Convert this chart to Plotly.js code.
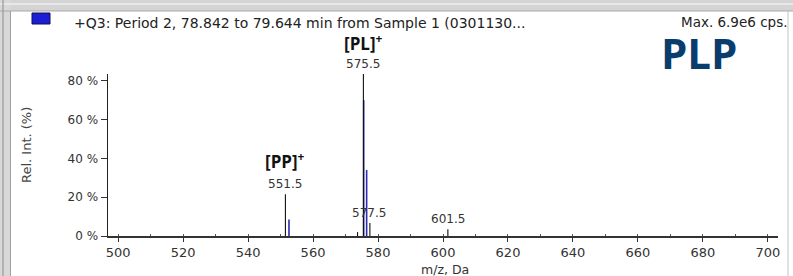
<!DOCTYPE html>
<html>
<head>
<meta charset="utf-8">
<script src="https://cdn.plot.ly/plotly-3.0.1.min.js"></script>
<style>
  html, body { margin: 0; padding: 0; background: #ffffff; }
  #chart { width: 793px; height: 276px; }
</style>
</head>
<body>
<div id="chart"></div>
<script>
// ---- data ----
const blueMz   = [552.6, 575.6, 576.5];
const blueInt  = [8.5, 70, 34];
const blackMz  = [551.5, 573.7, 575.5, 577.5, 601.5];
const blackInt = [21.5, 2.0, 83.5, 6.7, 3.5];
const labelMz   = [551.5, 575.5, 577.3, 601.5];
const labelInt  = [21.5, 83.5, 6.7, 3.5];
const labelText = ['551.5', '575.5', '577.5', '601.5'];
const ionMz   = [551.4, 575.6];
const ionText = ['[PP]<sup>+</sup>', '[PL]<sup>+</sup>'];
const yTickVals = [0, 20, 40, 60, 80];
const yTickText = ['0 %', '20 %', '40 %', '60 %', '80 %'];
const titleText = '+Q3: Period 2, 78.842 to 79.644 min from Sample 1 (0301130...';
const maxText = 'Max. 6.9e6 cps.';
const compoundText = 'PLP';
const xTitle = 'm/z, Da';
const yTitle = 'Rel. Int. (%)';

// ---- layout geometry (pixels) ----
const W = 793, H = 276;
const mL = 108, mR = 15, mT = 74, mB = 40;
const pw = W - mL - mR, ph = H - mT - mB;
const px = v => (v - mL) / pw;          // pixel x -> paper x
const py = v => (mT + ph - v) / ph;     // pixel y -> paper y
const ionPixY = [160, 42];              // vertical centres of the ion labels

function sticks(xs, ys) {
  const X = [], Y = [];
  xs.forEach((x, i) => { X.push(x, x, null); Y.push(0, ys[i], null); });
  return {X, Y};
}
const b = sticks(blueMz, blueInt);
const k = sticks(blackMz, blackInt);

const traces = [
  { type: 'scatter', mode: 'lines', x: b.X, y: b.Y,
    line: { color: '#2b2bb0', width: 1.6 }, hoverinfo: 'skip', showlegend: false },
  { type: 'scatter', mode: 'lines', x: k.X, y: k.Y,
    line: { color: '#111111', width: 1.1 }, hoverinfo: 'skip', showlegend: false },
  { type: 'scatter', mode: 'markers', x: [496.4], y: [3.1], cliponaxis: false,
    marker: { symbol: 'triangle-right', size: 10, color: '#1e1e50' },
    hoverinfo: 'skip', showlegend: false }
];

const tickFont = { family: 'DejaVu Sans', size: 13, color: '#333333' };
const annotations = [];
labelMz.forEach((m, i) => annotations.push({
  x: m, y: labelInt[i], xref: 'x', yref: 'y', text: labelText[i], showarrow: false,
  yanchor: 'bottom', yshift: 1, font: { family: 'DejaVu Sans', size: 12, color: '#333333' }
}));
ionMz.forEach((m, i) => annotations.push({
  x: m, y: py(ionPixY[i]), xref: 'x', yref: 'paper', text: ionText[i], showarrow: false,
  yanchor: 'middle', font: { family: 'Open Sans', size: 17, weight: 700, color: '#111111' }
}));
annotations.push(
  { x: px(72), y: py(23), xref: 'paper', yref: 'paper', text: titleText, showarrow: false,
    xanchor: 'left', yanchor: 'middle', font: { family: 'DejaVu Sans', size: 14, color: '#222222' } },
  { x: px(789), y: py(22), xref: 'paper', yref: 'paper', text: maxText, showarrow: false,
    xanchor: 'right', yanchor: 'middle', font: { family: 'DejaVu Sans', size: 13.5, color: '#222222' } },
  { x: px(699), y: py(52), xref: 'paper', yref: 'paper', text: compoundText, showarrow: false,
    xanchor: 'center', yanchor: 'middle', font: { family: 'Open Sans', size: 42, weight: 700, color: '#0b3c6e' } },
  { x: px(445), y: py(269), xref: 'paper', yref: 'paper', text: xTitle, showarrow: false,
    xanchor: 'center', yanchor: 'middle', font: { family: 'DejaVu Sans', size: 12.5, color: '#333333' } },
  { x: px(26), y: py(145), xref: 'paper', yref: 'paper', text: yTitle, showarrow: false,
    textangle: -90, xanchor: 'center', yanchor: 'middle', font: { family: 'DejaVu Sans', size: 13, color: '#444444' } }
);

const shapes = [
  // window frame
  { type: 'rect', xref: 'paper', yref: 'paper', x0: px(0), x1: px(W), y0: py(0), y1: py(11),
    fillcolor: '#d4d4d4', line: { width: 0 }, layer: 'below' },
  { type: 'line', xref: 'paper', yref: 'paper', x0: px(0), x1: px(W), y0: py(11), y1: py(11),
    line: { color: '#a9a9a9', width: 1 } },
  { type: 'line', xref: 'paper', yref: 'paper', x0: px(0), x1: px(W), y0: py(4), y1: py(4),
    line: { color: '#e8e8e8', width: 2 } },
  { type: 'rect', xref: 'paper', yref: 'paper', x0: px(0), x1: px(11), y0: py(0), y1: py(H),
    fillcolor: '#d8d8d8', line: { width: 0 }, layer: 'below' },
  { type: 'line', xref: 'paper', yref: 'paper', x0: px(3), x1: px(3), y0: py(0), y1: py(H),
    line: { color: '#8c8c8c', width: 1 } },
  { type: 'line', xref: 'paper', yref: 'paper', x0: px(10.5), x1: px(10.5), y0: py(11), y1: py(H),
    line: { color: '#a0a0a0', width: 1 } },
  { type: 'line', xref: 'paper', yref: 'paper', x0: px(788), x1: px(788), y0: py(11), y1: py(H),
    line: { color: '#c4c4c4', width: 1 } },
  // legend swatch
  { type: 'rect', xref: 'paper', yref: 'paper', x0: px(32), x1: px(50), y0: py(13), y1: py(24),
    fillcolor: '#1d1dd6', line: { color: '#10104a', width: 1 } }
];

const layout = {
  width: W, height: H,
  margin: { l: mL, r: mR, t: mT, b: mB, pad: 0 },
  paper_bgcolor: '#ffffff', plot_bgcolor: '#ffffff',
  showlegend: false,
  xaxis: {
    range: [496.9, 703.1], tick0: 500, dtick: 20, ticks: 'outside', ticklen: 4,
    tickcolor: '#333333', tickwidth: 1, showline: true, linecolor: '#333333', linewidth: 1.5,
    showgrid: false, zeroline: false, tickfont: tickFont, fixedrange: true,
    minor: { tick0: 500, dtick: 10, ticks: 'inside', ticklen: 2, tickcolor: '#555555', showgrid: false }
  },
  yaxis: {
    range: [0, 83.5], tickvals: yTickVals, ticktext: yTickText, ticks: 'outside', ticklen: 6,
    tickcolor: '#333333', tickwidth: 1, showline: true, linecolor: '#222222', linewidth: 1.5,
    showgrid: false, zeroline: false, tickfont: { family: 'DejaVu Sans', size: 12, color: '#333333' },
    fixedrange: true
  },
  annotations: annotations,
  shapes: shapes
};

Plotly.newPlot('chart', traces, layout, { staticPlot: true, displayModeBar: false });
</script>
</body>
</html>
